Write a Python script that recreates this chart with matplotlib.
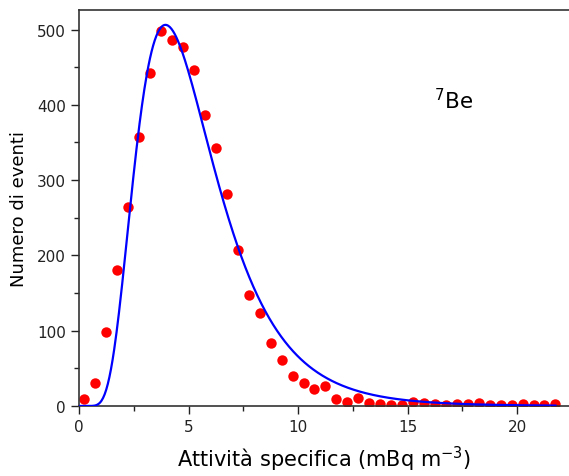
import numpy as np
import matplotlib
matplotlib.use("Agg")
import matplotlib.pyplot as plt
from matplotlib.ticker import MultipleLocator

# Binned specific activity of 7Be (bin centres, mBq m^-3) and event counts
activity = [0.25, 0.75, 1.25, 1.75, 2.25, 2.75, 3.25, 3.75, 4.25, 4.75,
            5.25, 5.75, 6.25, 6.75, 7.25, 7.75, 8.25, 8.75, 9.25, 9.75,
            10.25, 10.75, 11.25, 11.75, 12.25, 12.75, 13.25, 13.75, 14.25, 14.75,
            15.25, 15.75, 16.25, 16.75, 17.25, 17.75, 18.25, 18.75, 19.25, 19.75,
            20.25, 20.75, 21.25, 21.75]
counts = [9, 30, 98, 181, 264, 357, 442, 498, 486, 477,
          446, 387, 342, 282, 207, 148, 123, 83, 61, 40,
          31, 23, 26, 9, 5, 10, 4, 2, 1.5, 1.5,
          5, 4, 2.5, 1.5, 2, 2.5, 4, 1.5, 1, 1,
          2, 1.5, 1.5, 2]

# Log-normal fit: total area (events * mBq m^-3), mu, sigma
fit_area = 2562
fit_mu = 1.585
fit_sigma = 0.46

x_fit = np.linspace(0.01, 21.75, 600)
y_fit = fit_area / (x_fit * fit_sigma * np.sqrt(2 * np.pi)) * \
    np.exp(-(np.log(x_fit) - fit_mu) ** 2 / (2 * fit_sigma ** 2))

fig = plt.figure(figsize=(5.69, 4.77), dpi=100)
ax = fig.add_axes([0.1388, 0.1468, 0.8612, 0.8302])

ax.plot(activity, counts, "o", color="#ff0000", markersize=7.5,
        markeredgewidth=0, zorder=2)
ax.plot(x_fit, y_fit, color="#0000ff", linewidth=1.6, zorder=3)

ax.set_xlim(0, 22.37)
ax.set_ylim(0, 526)
ax.xaxis.set_major_locator(MultipleLocator(5))
ax.xaxis.set_minor_locator(MultipleLocator(2.5))
ax.yaxis.set_major_locator(MultipleLocator(100))
ax.yaxis.set_minor_locator(MultipleLocator(50))
ax.tick_params(which="major", direction="out", length=6, width=1,
               labelsize=11, colors="#222222")
ax.tick_params(which="minor", direction="out", length=3.5, width=1,
               colors="#222222")
ax.spines["right"].set_visible(False)
for side in ("left", "bottom", "top"):
    ax.spines[side].set_color("#333333")
    ax.spines[side].set_linewidth(1.2)

ax.set_xlabel("Attività specifica (mBq m$^{-3}$)", fontsize=15, labelpad=7)
ax.set_ylabel("Numero di eventi", fontsize=13, labelpad=6)
ax.text(17.1, 407, "$^{7}$Be", fontsize=15.5, ha="center", va="center")

fig.savefig("out.png", dpi=100)
